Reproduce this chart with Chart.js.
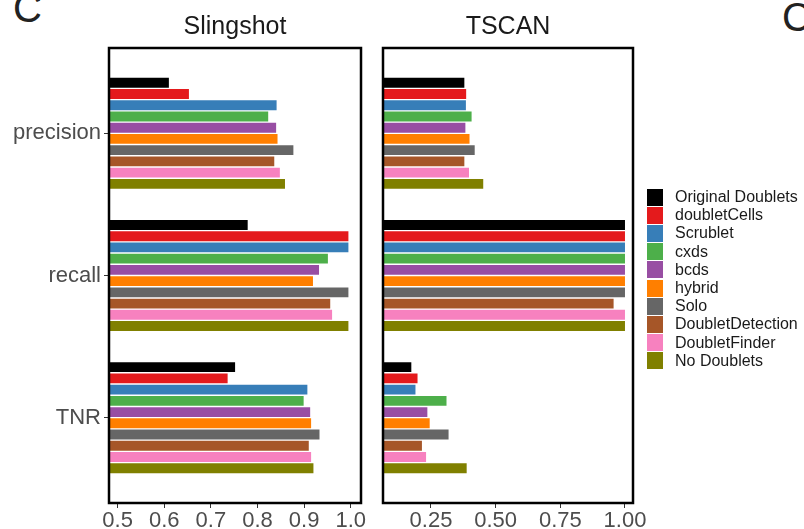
<!DOCTYPE html>
<html>
<head>
<meta charset="utf-8">
<script src="https://cdn.jsdelivr.net/npm/chart.js@4.4.1/dist/chart.umd.min.js"></script>
<style>
  body { margin: 0; background: #fff; width: 804px; height: 529px; overflow: hidden; position: relative; font-family: 'Liberation Sans', Arial, sans-serif; }
  canvas { position: absolute; top: 0; }
  #c1 { left: 0; }
  #c2 { left: 370px; }
  .tag { position: absolute; font-size: 40px; line-height: 1; color: #222; }
  #legend { position: absolute; left: 647px; top: 188px; }
  .item { display: flex; align-items: center; height: 18.2px; font-size: 16px; color: #1a1a1a; white-space: nowrap; }
  .key { width: 16px; height: 17px; margin-right: 12px; flex: none; }
</style>
</head>
<body>
<div class="tag" style="left:13px;top:-12px">C</div>
<div class="tag" style="left:782px;top:-3px">C</div>
<canvas id="c1" width="380" height="529"></canvas>
<canvas id="c2" width="290" height="529"></canvas>
<div id="legend"></div>
<script>
const metrics = ['precision', 'recall', 'TNR'];
const methods = ['Original Doublets', 'doubletCells', 'Scrublet', 'cxds', 'bcds', 'hybrid', 'Solo', 'DoubletDetection', 'DoubletFinder', 'No Doublets'];
const colors = ['#000000', '#E41A1C', '#377EB8', '#4DAF4A', '#984EA3', '#FF7F00', '#666666', '#A65628', '#F781BF', '#808000'];

// Slingshot, one value per method
const slingPrecision = [0.61, 0.653, 0.841, 0.823, 0.840, 0.843, 0.877, 0.836, 0.848, 0.859];
const slingRecall = [0.779, 0.995, 0.995, 0.951, 0.932, 0.919, 0.995, 0.956, 0.960, 0.995];
const slingTNR = [0.752, 0.736, 0.907, 0.899, 0.913, 0.915, 0.933, 0.910, 0.915, 0.920];

// TSCAN
const tscanPrecision = [0.379, 0.386, 0.385, 0.407, 0.383, 0.399, 0.419, 0.379, 0.397, 0.452];
const tscanRecall = [1.0, 1.0, 1.0, 1.0, 1.0, 1.0, 1.0, 0.956, 1.0, 1.0];
const tscanTNR = [0.174, 0.198, 0.190, 0.310, 0.236, 0.245, 0.318, 0.215, 0.231, 0.388];

const slingTicks = [0.5, 0.6, 0.7, 0.8, 0.9, 1.0];
const slingTickLabels = ['0.5', '0.6', '0.7', '0.8', '0.9', '1.0'];
const tscanTicks = [0.25, 0.5, 0.75, 1.0];
const tscanTickLabels = ['0.25', '0.50', '0.75', '1.00'];

Chart.defaults.font.family = "'Liberation Sans', Arial, sans-serif";

const panelBox = {
  id: 'panelBox',
  afterDatasetsDraw(chart) {
    const a = chart.chartArea;
    const ctx = chart.ctx;
    ctx.save();
    ctx.lineWidth = 2.5;
    ctx.strokeStyle = '#000';
    ctx.strokeRect(a.left, a.top, a.right - a.left, a.bottom - a.top);
    ctx.restore();
  }
};

function makePanel(id, title, series, ticks, tickLabels, xmin, xmax, showY, pad) {
  const datasets = methods.map((m, i) => ({
    label: m,
    backgroundColor: colors[i],
    borderWidth: 0,
    categoryPercentage: 0.79,
    barPercentage: 0.88,
    data: series.map((s, k) => ({ x: s[i], y: k + 1 }))
  }));

  new Chart(document.getElementById(id), {
    type: 'bar',
    data: { datasets },
    options: {
      indexAxis: 'y',
      responsive: false,
      animation: false,
      devicePixelRatio: 1,
      layout: { padding: pad },
      plugins: {
        legend: { display: false },
        tooltip: { enabled: false },
        title: {
          display: true,
          text: title,
          fullSize: false,
          color: '#1a1a1a',
          font: { size: 25, weight: 'normal' },
          padding: { top: 12, bottom: 6 }
        }
      },
      scales: {
        x: {
          type: 'linear',
          min: xmin,
          max: xmax,
          afterBuildTicks: s => { s.ticks = ticks.map(v => ({ value: v })); },
          afterFit: s => { s.height = 26; },
          grid: { drawOnChartArea: false, drawTicks: true, tickLength: 5, color: '#333' },
          border: { display: false },
          ticks: {
            color: '#4d4d4d',
            font: { size: 22, lineHeight: 1 },
            padding: 2,
            maxRotation: 0,
            callback: (v, i) => tickLabels[i]
          }
        },
        y: {
          type: 'linear',
          min: 0.4,
          max: 3.6,
          reverse: true,
          offset: false,
          display: showY,
          afterBuildTicks: s => { s.ticks = metrics.map((m, k) => ({ value: k + 1 })); },
          afterFit: s => { s.width = showY ? 109 : 0; },
          grid: { offset: false, drawOnChartArea: false, drawTicks: true, tickLength: 5, color: '#333' },
          border: { display: false },
          ticks: {
            color: '#4d4d4d',
            font: { size: 22 },
            padding: 3,
            callback: v => metrics[v - 1]
          }
        }
      }
    },
    plugins: [panelBox]
  });
}

makePanel('c1', 'Slingshot', [slingPrecision, slingRecall, slingTNR], slingTicks, slingTickLabels,
  0.4816, 1.022, true, { left: 0, right: 19, top: 0, bottom: 0 });
makePanel('c2', 'TSCAN', [tscanPrecision, tscanRecall, tscanTNR], tscanTicks, tscanTickLabels,
  0.0645, 1.031, false, { left: 13, right: 27, top: 0, bottom: 0 });

const legend = document.getElementById('legend');
methods.forEach((m, i) => {
  const row = document.createElement('div');
  row.className = 'item';
  row.innerHTML = '<span class="key" style="background:' + colors[i] + '"></span>' + m;
  legend.appendChild(row);
});
</script>
</body>
</html>
